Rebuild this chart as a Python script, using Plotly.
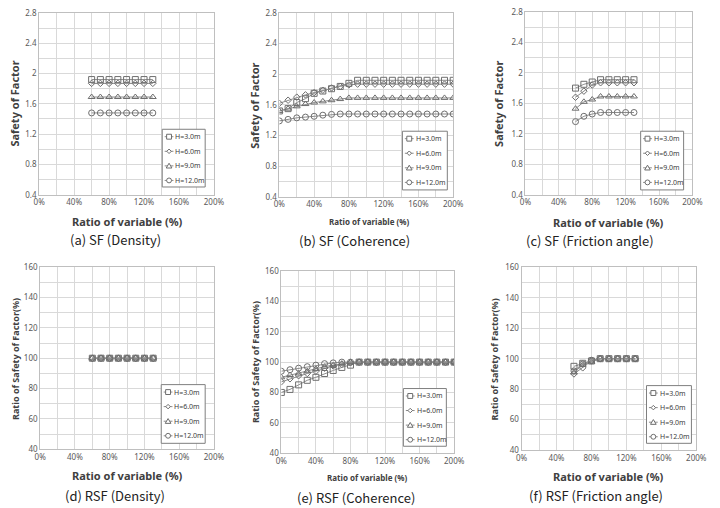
import plotly.graph_objects as go

W, H = 720, 508

labels = ["H=3.0m", "H=6.0m", "H=9.0m", "H=12.0m"]
symbols = ["square-open", "diamond-open", "triangle-up-open", "circle-open"]
msizes = [6, 5, 6, 6]

# x values (ratio of variable, %)
x_short = [60, 70, 80, 90, 100, 110, 120, 130]
x_long = [0, 10, 20, 30, 40, 50, 60, 70, 80, 90, 100, 110, 120, 130, 140, 150, 160, 170, 180, 190, 200]

# (a) SF Density
sf_den_h3 = [1.92] * 8
sf_den_h6 = [1.87] * 8
sf_den_h9 = [1.69] * 8
sf_den_h12 = [1.48] * 8

# (b) SF Coherence
sf_coh_h3 = [1.52, 1.55, 1.63, 1.68, 1.75, 1.78, 1.81, 1.84, 1.88, 1.92, 1.92, 1.92, 1.92, 1.92, 1.92, 1.92, 1.92, 1.92, 1.92, 1.92, 1.92]
sf_coh_h6 = [1.62, 1.66, 1.70, 1.73, 1.76, 1.79, 1.82, 1.84, 1.86, 1.87, 1.87, 1.87, 1.87, 1.87, 1.87, 1.87, 1.87, 1.87, 1.87, 1.87, 1.87]
sf_coh_h9 = [1.52, 1.55, 1.58, 1.61, 1.63, 1.645, 1.66, 1.675, 1.69, 1.69, 1.69, 1.69, 1.69, 1.69, 1.69, 1.69, 1.69, 1.69, 1.69, 1.69, 1.69]
sf_coh_h12 = [1.39, 1.41, 1.43, 1.44, 1.45, 1.465, 1.475, 1.48, 1.48, 1.48, 1.48, 1.48, 1.48, 1.48, 1.48, 1.48, 1.48, 1.48, 1.48, 1.48, 1.48]

# (c) SF Friction angle
sf_fri_h3 = [1.80, 1.85, 1.88, 1.91, 1.91, 1.91, 1.91, 1.91]
sf_fri_h6 = [1.68, 1.76, 1.84, 1.87, 1.87, 1.87, 1.87, 1.87]
sf_fri_h9 = [1.53, 1.62, 1.65, 1.69, 1.69, 1.69, 1.69, 1.69]
sf_fri_h12 = [1.36, 1.43, 1.46, 1.48, 1.48, 1.48, 1.48, 1.48]

# (d) RSF Density
rsf_den_h3 = [100] * 8
rsf_den_h6 = [100] * 8
rsf_den_h9 = [100] * 8
rsf_den_h12 = [100] * 8

# (e) RSF Coherence
rsf_coh_h3 = [80, 82, 85, 88, 90, 92.5, 94.5, 96.5, 98, 100, 100, 100, 100, 100, 100, 100, 100, 100, 100, 100, 100]
rsf_coh_h6 = [87, 89, 91, 92.5, 94, 96, 97.5, 98.5, 99.5, 100, 100, 100, 100, 100, 100, 100, 100, 100, 100, 100, 100]
rsf_coh_h9 = [90, 91.5, 92.5, 94, 95.5, 97, 98, 99, 100, 100, 100, 100, 100, 100, 100, 100, 100, 100, 100, 100, 100]
rsf_coh_h12 = [94, 95, 96, 97, 98, 99, 99.5, 100, 100, 100, 100, 100, 100, 100, 100, 100, 100, 100, 100, 100, 100]

# (f) RSF Friction angle
rsf_fri_h3 = [95, 97, 98.5, 100, 100, 100, 100, 100]
rsf_fri_h6 = [90, 94, 98.5, 100, 100, 100, 100, 100]
rsf_fri_h9 = [91, 96, 98, 100, 100, 100, 100, 100]
rsf_fri_h12 = [92, 96.5, 99, 100, 100, 100, 100, 100]

panels = [
    dict(x=x_short, ys=[sf_den_h3, sf_den_h6, sf_den_h9, sf_den_h12], box=(34, 213, 7, 193), kind="sf",
         xt=("Ratio of variable (%)", 124, 220, 11), yt=("Safety of Factor", 9, 100, 11),
         cap=("(a) SF (Density)", 112, 239), leg=(160, 126, 44, 59)),
    dict(x=x_long, ys=[sf_coh_h3, sf_coh_h6, sf_coh_h9, sf_coh_h12], box=(280, 458, 7, 195), kind="sf",
         xt=("Ratio of variable (%)", 372, 220, 8), yt=("Safety of Factor", 255, 102, 11),
         cap=("(b) SF (Coherence)", 357, 240), leg=(406, 128, 46, 60)),
    dict(x=x_short, ys=[sf_fri_h3, sf_fri_h6, sf_fri_h9, sf_fri_h12], box=(532, 703, 6, 193), kind="sf",
         xt=("Ratio of variable (%)", 617, 221, 11), yt=("Safety of Factor", 505, 100, 11),
         cap=("(c) SF (Friction angle)", 598, 240), leg=(650, 128, 44, 60)),
    dict(x=x_short, ys=[rsf_den_h3, rsf_den_h6, rsf_den_h9, rsf_den_h12], box=(35, 213, 267, 453), kind="rsf",
         xt=("Ratio of variable (%)", 124, 480, 11), yt=("Ratio of Safety of Factor(%)", 9, 361, 9),
         cap=("(d) RSF (Density)", 112, 500), leg=(159, 387, 45, 60)),
    dict(x=x_long, ys=[rsf_coh_h3, rsf_coh_h6, rsf_coh_h9, rsf_coh_h12], box=(282, 459, 271, 457), kind="rsf",
         xt=("Ratio of variable (%)", 370, 482, 8), yt=("Ratio of Safety of Factor(%)", 255, 364, 9),
         cap=("(e) RSF (Coherence)", 358, 502), leg=(407, 391, 44, 59)),
    dict(x=x_short, ys=[rsf_fri_h3, rsf_fri_h6, rsf_fri_h9, rsf_fri_h12], box=(528, 707, 267, 454), kind="rsf",
         xt=("Ratio of variable (%)", 617, 481, 11), yt=("Ratio of Safety of Factor(%)", 500, 361, 9),
         cap=("(f) RSF (Friction angle)", 604, 500), leg=(656, 388, 46, 59)),
]

LINE = "#8c8c8c"
MARK = "#6e6e6e"
GRID = "#d9d9d9"


def PX(px):
    return px / W


def PY(py):
    return 1 - py / H


def legend_glyph(kind, cx, cy):
    """Return a paper-referenced shape for a legend symbol centred at pixel (cx, cy)."""
    s = 2.5
    base = dict(xref="paper", yref="paper", line=dict(color=MARK, width=1), fillcolor="white", layer="above")
    if kind == 0:
        return dict(type="rect", x0=PX(cx - s), x1=PX(cx + s), y0=PY(cy + s), y1=PY(cy - s), **base)
    if kind == 3:
        return dict(type="circle", x0=PX(cx - s), x1=PX(cx + s), y0=PY(cy + s), y1=PY(cy - s), **base)
    if kind == 1:
        d = 2.3
        path = (f"M {PX(cx)},{PY(cy - d)} L {PX(cx + d)},{PY(cy)} "
                f"L {PX(cx)},{PY(cy + d)} L {PX(cx - d)},{PY(cy)} Z")
        return dict(type="path", path=path, **base)
    path = (f"M {PX(cx)},{PY(cy - 2.7)} L {PX(cx + 2.9)},{PY(cy + 2.2)} "
            f"L {PX(cx - 2.9)},{PY(cy + 2.2)} Z")
    return dict(type="path", path=path, **base)


fig = go.Figure()
layout = dict(width=W, height=H, margin=dict(l=0, r=0, t=0, b=0),
              paper_bgcolor="white", plot_bgcolor="white", showlegend=False,
              font=dict(family="Noto Sans, DejaVu Sans", color="#404040"))
annotations = []
shapes = []

for i, p in enumerate(panels):
    n = i + 1
    xa = "x" if n == 1 else f"x{n}"
    ya = "y" if n == 1 else f"y{n}"
    for j in range(4):
        fig.add_trace(go.Scatter(
            x=p["x"], y=p["ys"][j], name=labels[j], mode="lines+markers",
            line=dict(color=LINE, width=1),
            marker=dict(symbol=symbols[j], size=msizes[j], color=MARK, line=dict(width=1, color=MARK)),
            xaxis=xa, yaxis=ya))
    x0, x1, y0, y1 = p["box"]
    if p["kind"] == "sf":
        yr, ydt, ymin = [0.4, 2.8], 0.4, 0.2
    else:
        yr, ydt, ymin = [40, 160], 20, 10
    axx = dict(domain=[x0 / W, x1 / W], range=[0, 200], dtick=40, tick0=0, ticksuffix="%",
               showgrid=True, gridcolor=GRID, gridwidth=1,
               minor=dict(dtick=20, showgrid=True, gridcolor=GRID, gridwidth=1),
               showline=True, linecolor="#bfbfbf", mirror=True, zeroline=False,
               ticks="", tickfont=dict(size=8, color="#595959"),
               anchor=ya, fixedrange=True)
    axy = dict(domain=[1 - y1 / H, 1 - y0 / H], range=yr, dtick=ydt, tick0=yr[0],
               showgrid=True, gridcolor=GRID, gridwidth=1,
               minor=dict(dtick=ymin, showgrid=True, gridcolor=GRID, gridwidth=1),
               showline=True, linecolor="#bfbfbf", mirror=True, zeroline=False,
               ticks="", tickfont=dict(size=8, color="#595959"),
               anchor=xa, fixedrange=True)
    layout["xaxis" if n == 1 else f"xaxis{n}"] = axx
    layout["yaxis" if n == 1 else f"yaxis{n}"] = axy

    # legend box
    lx, ly, lw, lh = p["leg"]
    shapes.append(dict(type="rect", xref="paper", yref="paper", x0=PX(lx), x1=PX(lx + lw),
                       y0=PY(ly + lh), y1=PY(ly), line=dict(color="#7f7f7f", width=1),
                       fillcolor="white", layer="above"))
    for j in range(4):
        cy = ly + 7.6 + 14.9 * j
        shapes.append(dict(type="line", xref="paper", yref="paper", x0=PX(lx + 2.5), x1=PX(lx + 11.5),
                           y0=PY(cy), y1=PY(cy), line=dict(color=LINE, width=1), layer="above"))
        shapes.append(legend_glyph(j, lx + 7, cy))
        annotations.append(dict(text=labels[j], x=PX(lx + 11.5), y=PY(cy), xref="paper", yref="paper",
                                showarrow=False, xanchor="left", yanchor="middle",
                                font=dict(size=7, color="#404040")))

    t, tx, ty, ts = p["xt"]
    annotations.append(dict(text=f"<b>{t}</b>", x=tx / W, y=1 - ty / H, xref="paper", yref="paper",
                            showarrow=False, xanchor="center", yanchor="middle",
                            font=dict(size=ts, color="#404040")))
    t, tx, ty, ts = p["yt"]
    annotations.append(dict(text=f"<b>{t}</b>", x=tx / W, y=1 - ty / H, xref="paper", yref="paper",
                            showarrow=False, xanchor="center", yanchor="middle", textangle=-90,
                            font=dict(size=ts, color="#404040")))
    t, tx, ty = p["cap"]
    annotations.append(dict(text=t, x=tx / W, y=1 - ty / H, xref="paper", yref="paper",
                            showarrow=False, xanchor="center", yanchor="middle",
                            font=dict(size=13, color="#222222", family="Noto Sans CJK KR, Noto Sans")))

layout["annotations"] = annotations
layout["shapes"] = shapes
fig.update_layout(**layout)
fig.write_html("out.html")
